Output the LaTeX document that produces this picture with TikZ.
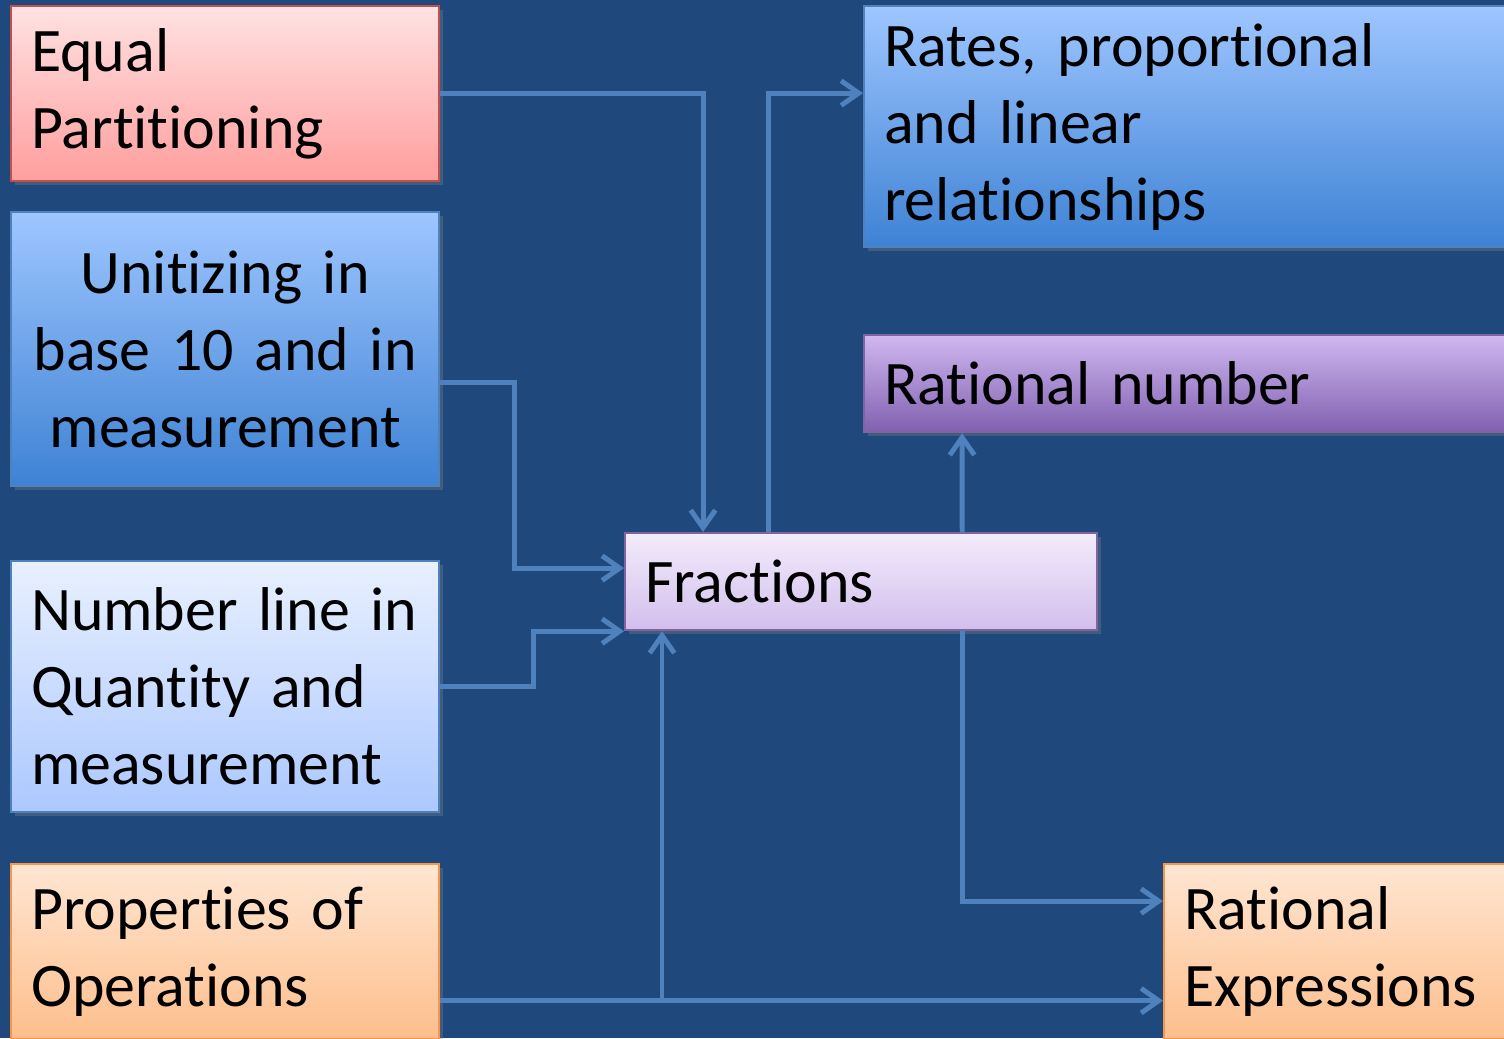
\documentclass[tikz,border=0pt]{standalone}
\usepackage{fontspec}
\setmainfont{Carlito}[Ligatures=NoCommon, WordSpace=0.9]
\usetikzlibrary{positioning,shadows,arrows.meta}
\definecolor{slide}{RGB}{31,73,125}
\definecolor{linkblue}{RGB}{79,129,189}
\definecolor{pinktop}{RGB}{255,226,226}
\definecolor{pinkbot}{RGB}{255,158,158}
\definecolor{pinkline}{RGB}{192,80,77}
\definecolor{bluetop}{RGB}{158,198,255}
\definecolor{bluebot}{RGB}{62,130,212}
\definecolor{paletop}{RGB}{232,240,255}
\definecolor{palebot}{RGB}{172,200,255}
\definecolor{peachtop}{RGB}{255,230,210}
\definecolor{peachbot}{RGB}{253,190,140}
\definecolor{peachline}{RGB}{247,150,70}
\definecolor{violettop}{RGB}{208,184,240}
\definecolor{violetbot}{RGB}{128,96,176}
\definecolor{violetline}{RGB}{128,100,162}
\definecolor{lilactop}{RGB}{243,236,251}
\definecolor{lilacbot}{RGB}{210,190,236}
\tikzset {
        recnode/.style={rectangle, anchor=north west, align=left, inner xsep=0.2cm, inner ysep=0pt, line width=0.6pt, font=\fontsize{17.6}{21.9}\selectfont, drop shadow={shadow xshift=0.04cm, shadow yshift=-0.04cm, opacity=0.35}},
        pinkbox/.style={draw=pinkline, top color=pinktop, bottom color=pinkbot},
        bluebox/.style={draw=linkblue, top color=bluetop, bottom color=bluebot},
        palebox/.style={draw=linkblue, top color=paletop, bottom color=palebot},
        peachbox/.style={draw=peachline, top color=peachtop, bottom color=peachbot},
        violetbox/.style={draw=violetline, top color=violettop, bottom color=violetbot},
        lilacbox/.style={draw=violetline, top color=lilactop, bottom color=lilacbot},
        link/.style={draw=linkblue, line width=1.4pt, -{Straight Barb[length=5pt,width=7pt]}}
}
\begin{document}
\begin{tikzpicture}[x=0.01cm, y=-0.01cm]
            \fill[slide] (0,0) rectangle (1504,1038);
            \useasboundingbox (0,0) rectangle (1504,1038);
            \clip (0,0) rectangle (1504,1038);

            \node[recnode, pinkbox, text width=3.88cm, minimum height=1.75cm] (EqualPartitioning) at (10,5) {
                Equal\\Partitioning
            };
            \node[recnode, bluebox, align=center, text width=3.88cm, minimum height=2.74cm] (Unitizing) at (10,211) {
                \mbox{Unitizing in}\\\mbox{base 10 and in}\\\mbox{measurement}
            };
            \node[recnode, palebox, text width=3.88cm, minimum height=2.51cm] (NumberLine) at (10,560) {
                \mbox{Number line in}\\\mbox{Quantity and}\\measurement
            };
            \node[recnode, peachbox, text width=3.88cm, minimum height=1.75cm] (Properties) at (10,863) {
                \mbox{Properties of}\\Operations
            };
            \node[recnode, lilacbox, text width=4.32cm, minimum height=0.97cm] (Fractions) at (624,532) {
                Fractions
            };
            \node[recnode, bluebox, text width=6.6cm, minimum height=2.41cm] (Rates) at (863,5) {
                Rates, proportional\\and linear\\relationships
            };
            \node[recnode, violetbox, text width=6.6cm, minimum height=0.97cm] (RationalNumber) at (863,334) {
                Rational number
            };
            \node[recnode, peachbox, text width=3.6cm, minimum height=1.75cm] (RationalExpressions) at (1163,863) {
                Rational\\Expressions
            };

            \coordinate (PropsOut) at ([yshift=-0.49cm]Properties.east);
            \coordinate (PropsJoin) at ([xshift=0.38cm]Fractions.south west);

            \draw[link] (EqualPartitioning.east) -| ([xshift=0.79cm]Fractions.north west);
            \draw[link] ([yshift=-0.33cm]Unitizing.east) -- ++(74,0) |- ([yshift=0.135cm]Fractions.west);
            \draw[link] (NumberLine.east) -- ++(93,0) |- (Fractions.south west);
            \draw[link] (PropsOut) -| (PropsJoin);
            \draw[link] (PropsOut) -- ([yshift=-0.49cm]RationalExpressions.west);

            \draw[link] ([xshift=1.44cm]Fractions.north west) |- ([yshift=0.335cm]Rates.west);
            \draw[link] ([xshift=3.38cm]Fractions.north west) -- ([xshift=0.99cm]RationalNumber.south west);
            \draw[link] ([xshift=3.38cm]Fractions.south west) |- ([yshift=0.505cm]RationalExpressions.west);
        \end{tikzpicture}
\end{document}
